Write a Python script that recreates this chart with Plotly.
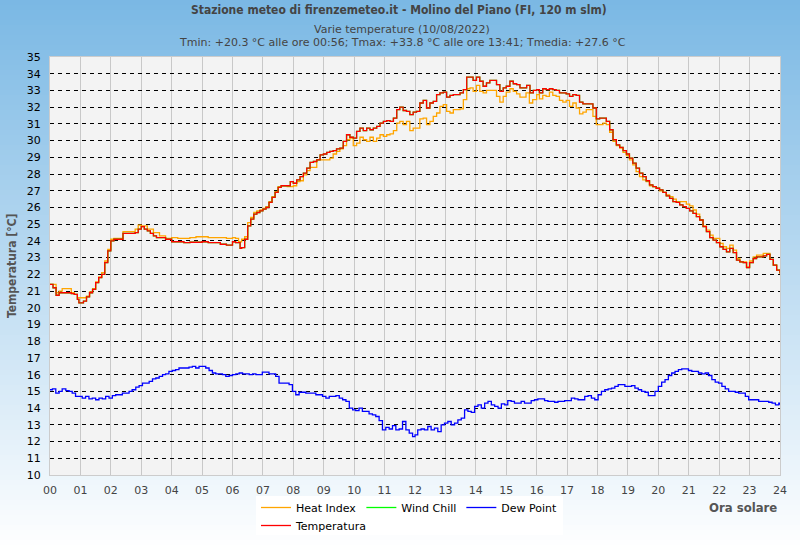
import plotly.graph_objects as go

# ---------------- data ----------------
hours_ticks = list(range(0, 25))
hour_labels = [f"{h:02d}" for h in hours_ticks]
temp_ticks = list(range(10, 36))

temp_t = [0.0, 0.1, 0.2, 0.3, 0.5, 0.7, 0.8, 0.9, 0.95, 1.1, 1.2, 1.3, 1.4, 1.5, 1.6, 1.7, 1.8, 1.9, 2.0, 2.1,
          2.3, 2.4, 2.7, 2.8, 2.9, 3.0, 3.1, 3.2, 3.3, 3.4, 3.5, 3.6, 3.8, 3.9, 4.0, 4.2, 4.4, 4.6, 4.8, 5.0,
          5.2, 5.4, 5.6, 5.8, 6.0, 6.1, 6.25, 6.3, 6.4, 6.5, 6.6, 6.7, 6.8, 6.9, 7.0, 7.1, 7.2, 7.3, 7.4, 7.5,
          7.6, 7.8, 7.9, 8.0, 8.11, 8.22, 8.33, 8.44, 8.55, 8.66, 8.77, 8.88, 8.99, 9.1, 9.2, 9.31, 9.42, 9.53,
          9.64, 9.75, 9.86, 9.97, 10.08, 10.19, 10.3, 10.41, 10.52, 10.63, 10.74, 10.85, 10.96, 11.07, 11.18,
          11.29, 11.4, 11.5, 11.61, 11.72, 11.83, 11.94, 12.05, 12.16, 12.27, 12.38, 12.49, 12.6, 12.71, 12.82,
          12.93, 13.04, 13.15, 13.26, 13.37, 13.48, 13.59, 13.7, 13.81, 13.91, 14.02, 14.13, 14.24, 14.35,
          14.46, 14.57, 14.68, 14.79, 14.9, 15.0, 15.12, 15.23, 15.34, 15.45, 15.56, 15.67, 15.78, 15.89,
          16.0, 16.09, 16.2, 16.31, 16.42, 16.53, 16.64, 16.75, 16.86, 16.97, 17.08, 17.19, 17.3, 17.41,
          17.52, 17.63, 17.74, 17.85, 17.96, 18.07, 18.18, 18.29, 18.4, 18.51, 18.62, 18.73, 18.84, 18.95,
          19.05, 19.16, 19.27, 19.38, 19.49, 19.6, 19.71, 19.82, 19.93, 20.04, 20.15, 20.26, 20.37, 20.48,
          20.59, 20.7, 20.81, 20.92, 21.03, 21.14, 21.25, 21.36, 21.47, 21.58, 21.69, 21.8, 21.91, 22.02,
          22.13, 22.24, 22.35, 22.46, 22.57, 22.68, 22.79, 22.9, 23.0, 23.12, 23.23, 23.34, 23.45, 23.56,
          23.67, 23.78, 23.89, 24.0]
temp_v = [21.4, 21.2, 20.75, 20.9, 20.9, 20.85, 20.8, 20.5, 20.3, 20.4, 20.65, 20.9, 21.1, 21.5, 21.8, 22.0, 22.7, 23.4, 24.0, 24.1,
          24.1, 24.45, 24.45, 24.5, 24.7, 24.85, 24.7, 24.6, 24.45, 24.3, 24.2, 24.2, 24.1, 24.1, 23.95, 23.95, 23.9, 23.92, 23.92, 23.95,
          23.9, 23.9, 23.8, 23.75, 23.95, 23.9, 23.55, 23.6, 24.1, 24.9, 25.3, 25.6, 25.7, 25.8, 25.9, 26.0, 26.3, 26.6, 26.9, 27.2,
          27.3, 27.3, 27.55, 27.45, 27.65, 27.85, 28.05, 28.35, 28.7, 28.75, 28.85, 29.15, 29.2, 29.3, 29.35, 29.4, 29.5, 29.55,
          29.95, 30.35, 30.2, 30.15, 30.55, 30.75, 30.6, 30.75, 30.65, 30.75, 30.85, 31.05, 31.15, 31.2, 31.15,
          31.35, 31.85, 32.0, 31.8, 31.75, 31.55, 31.7, 31.75, 32.25, 32.4, 31.95, 32.25, 32.35, 32.75, 32.85,
          32.9, 32.6, 32.7, 32.75, 32.75, 32.85, 33.05, 33.8, 33.8, 33.6, 33.8, 33.55, 33.25, 33.45,
          33.6, 33.6, 33.35, 32.95, 33.15, 33.25, 33.55, 33.4, 33.35, 33.15, 33.15, 33.3, 32.85, 33.0,
          33.05, 32.85, 33.1, 33.05, 33.1, 33.05, 33.0, 32.85, 32.85, 32.8, 32.65, 32.75, 32.7, 32.3,
          32.2, 32.2, 32.2, 31.95, 31.3, 31.35, 31.35, 31.15, 30.65, 30.05, 29.75, 29.6, 29.4, 29.2,
          28.95, 28.65, 28.35, 28.05, 27.85, 27.6, 27.35, 27.25, 27.15, 27.05, 26.9, 26.7, 26.55, 26.35,
          26.3, 26.15, 26.05, 25.95, 25.8, 25.65, 25.45, 25.25, 24.85, 24.55, 24.2, 24.05, 23.9, 23.65,
          23.5, 23.35, 23.55, 23.3, 22.85, 22.75, 22.7, 22.4, 22.7, 22.95, 23.05, 23.05, 23.1, 23.2,
          22.9, 22.55, 22.25, 22.05]

heat_t = [0.0, 0.2, 0.3, 0.4, 0.6, 0.7, 0.8, 0.9, 1.1, 1.2, 1.3, 1.4, 1.5, 1.6, 1.7, 1.8, 1.9, 2.0, 2.1, 2.3,
          2.4, 2.7, 2.8, 2.9, 3.0, 3.2, 3.4, 3.6, 3.8, 4.0, 4.2, 4.4, 4.6, 4.8, 5.0, 5.2, 5.4, 5.6, 5.8, 6.0,
          6.1, 6.2, 6.3, 6.4, 6.5, 6.6, 6.7, 6.8, 6.9, 7.0, 7.1, 7.2, 7.3, 7.4, 7.5, 7.6, 7.8, 8.0, 8.11, 8.22,
          8.33, 8.44, 8.55, 8.66, 8.77, 8.88, 8.99, 9.1, 9.2, 9.31, 9.42, 9.53, 9.64, 9.75, 9.86, 9.97, 10.08,
          10.19, 10.3, 10.41, 10.52, 10.63, 10.74, 10.85, 10.96, 11.07, 11.18, 11.29, 11.4, 11.5, 11.61, 11.72,
          11.83, 11.94, 12.05, 12.16, 12.27, 12.38, 12.49, 12.6, 12.71, 12.82, 12.93, 13.04, 13.15, 13.26,
          13.37, 13.48, 13.59, 13.7, 13.81, 13.91, 14.02, 14.13, 14.24, 14.35, 14.46, 14.57, 14.68, 14.79,
          14.9, 15.0, 15.12, 15.23, 15.34, 15.45, 15.54, 15.65, 15.76, 15.87, 16.0, 16.09, 16.2, 16.31, 16.42,
          16.53, 16.64, 16.75, 16.86, 16.97, 17.08, 17.19, 17.3, 17.41, 17.52, 17.63, 17.74, 17.85, 17.96,
          18.07, 18.18, 18.29, 18.4, 18.51, 18.62, 18.73, 18.84, 18.95, 19.05, 19.16, 19.27, 19.38, 19.49,
          19.6, 19.71, 19.82, 19.93, 20.04, 20.15, 20.26, 20.37, 20.48, 20.59, 20.7, 20.81, 20.92, 21.03,
          21.14, 21.25, 21.36, 21.47, 21.58, 21.69, 21.8, 21.91, 22.02, 22.13, 22.24, 22.35, 22.46, 22.57,
          22.68, 22.79, 22.9, 23.0, 23.12, 23.23, 23.34, 23.45, 23.56, 23.67, 23.78, 23.89, 24.0]
heat_v = [21.4, 20.9, 21.0, 21.15, 21.15, 20.9, 20.8, 20.6, 20.6, 20.7, 20.95, 21.15, 21.55, 21.85, 22.1, 22.8, 23.5, 24.1, 24.15, 24.15,
          24.55, 24.55, 24.7, 24.95, 24.9, 24.7, 24.5, 24.3, 24.15, 24.2, 24.15, 24.15, 24.2, 24.25, 24.25, 24.2, 24.2, 24.2, 24.15, 24.2,
          24.15, 23.95, 24.1, 24.25, 25.1, 25.4, 25.7, 25.8, 25.85, 25.95, 26.05, 26.35, 26.65, 26.95, 27.25, 27.3, 27.25, 27.3, 27.55, 27.6,
          27.95, 28.2, 28.4, 28.4, 28.85, 28.85, 28.85, 28.85, 28.95, 29.2, 29.35, 29.5, 29.7, 30.05, 30.15, 29.7, 29.85,
          30.2, 30.05, 29.95, 30.2, 29.95, 30.15, 30.35, 30.25, 30.35, 30.4, 30.6, 31.05, 31.15, 30.95, 31.15,
          30.6, 30.75, 30.75, 31.3, 31.35, 30.95, 31.15, 31.45, 31.65, 32.05, 32.15, 31.75, 31.65, 31.85,
          31.85, 31.9, 32.45, 33.1, 33.15, 32.95, 33.3, 32.95, 32.85, 33.0, 33.0, 33.0, 32.65, 32.3,
          32.65, 32.9, 33.1, 32.95, 32.8, 32.6, 32.6, 32.85, 32.25, 32.45, 32.75, 32.5, 32.7, 32.65, 32.9,
          32.7, 32.65, 32.4, 32.3, 32.4, 32.05, 32.25, 31.95, 31.6, 31.7, 31.85, 31.85, 31.45, 30.95,
          30.95, 31.05, 30.95, 30.5, 29.95, 29.7, 29.55, 29.3, 29.1, 28.85, 28.55, 28.15, 27.85, 27.65,
          27.55, 27.3, 27.25, 27.15, 27.0, 26.9, 26.75, 26.65, 26.5, 26.35, 26.35, 26.35, 26.2, 26.1,
          25.85, 25.6, 25.25, 24.9, 24.65, 24.35, 24.15, 24.15, 23.85, 23.65, 23.55, 23.75, 23.45, 22.95,
          22.75, 22.75, 22.45, 22.8, 23.05, 23.15, 23.15, 23.25, 23.25, 22.9, 22.55, 22.25, 22.05]

dew_t = [0.0, 0.08, 0.19, 0.3, 0.4, 0.52, 0.63, 0.73, 0.84, 0.95, 1.06, 1.17, 1.28, 1.39, 1.5, 1.61, 1.72, 1.83, 1.94, 2.05,
         2.16, 2.27, 2.38, 2.49, 2.6, 2.7, 2.82, 2.93, 3.04, 3.15, 3.26, 3.37, 3.48, 3.59, 3.7, 3.8, 3.91, 4.02, 4.13, 4.24,
         4.35, 4.46, 4.57, 4.68, 4.79, 4.9, 5.01, 5.12, 5.23, 5.34, 5.45, 5.56, 5.67, 5.78, 5.89, 6.0, 6.11, 6.22, 6.33, 6.44,
         6.55, 6.66, 6.77, 6.88, 6.98, 7.09, 7.2, 7.31, 7.42, 7.53, 7.64, 7.75, 7.86, 7.97, 8.08, 8.19, 8.3, 8.41, 8.52, 8.63,
         8.74, 8.85, 8.96, 9.07, 9.18, 9.29, 9.4, 9.51, 9.62, 9.73, 9.84, 9.95, 10.05, 10.16, 10.27, 10.38, 10.49, 10.6, 10.71,
         10.82, 10.93, 11.04, 11.15, 11.26, 11.37, 11.48, 11.59, 11.7, 11.81, 11.92, 12.0, 12.09, 12.2, 12.31, 12.42, 12.53,
         12.64, 12.75, 12.86, 12.97, 13.08, 13.19, 13.3, 13.41, 13.52, 13.63, 13.74, 13.85, 13.96, 14.07, 14.18, 14.29, 14.4,
         14.51, 14.62, 14.73, 14.84, 14.95, 15.05, 15.16, 15.27, 15.38, 15.49, 15.6, 15.71, 15.82, 15.93, 16.04, 16.15, 16.26,
         16.37, 16.48, 16.59, 16.7, 16.81, 16.92, 17.03, 17.14, 17.25, 17.36, 17.47, 17.58, 17.69, 17.8, 17.91, 18.02, 18.13,
         18.24, 18.35, 18.46, 18.57, 18.68, 18.79, 18.9, 19.01, 19.12, 19.23, 19.34, 19.45, 19.56, 19.67, 19.78, 19.89, 20.0,
         20.11, 20.22, 20.33, 20.44, 20.55, 20.66, 20.77, 20.88, 20.99, 21.1, 21.21, 21.32, 21.43, 21.54, 21.65, 21.76, 21.87,
         21.98, 22.09, 22.2, 22.31, 22.42, 22.53, 22.64, 22.75, 22.86, 22.97, 23.08, 23.19, 23.3, 23.41, 23.52, 23.63, 23.74,
         23.85, 23.96, 24.0]
dew_v = [15.1, 15.15, 14.9, 15.0, 15.15, 15.05, 15.0, 14.9, 14.7, 14.7, 14.6, 14.7, 14.55, 14.6, 14.5, 14.6, 14.55, 14.7, 14.6, 14.75,
         14.8, 14.8, 14.9, 14.9, 15.0, 15.1, 15.25, 15.35, 15.5, 15.5, 15.6, 15.75, 15.8, 15.9, 16.0, 16.05, 16.2, 16.25, 16.3, 16.4,
         16.4, 16.4, 16.45, 16.5, 16.4, 16.5, 16.5, 16.4, 16.25, 16.1, 16.05, 16.05, 16.0, 15.9, 15.95, 16.0, 16.05, 16.1, 16.05, 16.05,
         16.0, 16.05, 16.0, 16.0, 16.15, 16.15, 16.05, 16.05, 15.9, 15.5, 15.5, 15.5, 15.4, 15.0, 14.8, 14.95, 14.95, 14.9, 14.9, 14.9,
         14.8, 14.8, 14.7, 14.6, 14.7, 14.7, 14.75, 14.6, 14.5, 14.4, 14.0, 13.9, 13.85, 14.0, 13.8, 13.8, 13.65, 13.6, 13.5,
         13.25, 12.7, 12.85, 12.75, 12.95, 12.7, 12.75, 13.2, 12.7, 12.5, 12.3, 12.4, 12.7, 12.75, 12.7, 12.9, 12.7,
         12.8, 12.6, 13.0, 13.1, 13.2, 13.0, 13.1, 13.3, 13.4, 13.9, 13.8, 13.75, 14.1, 14.2, 14.0, 14.3, 14.4,
         14.2, 14.1, 14.0, 14.25, 14.2, 14.45, 14.4, 14.3, 14.3, 14.4, 14.3, 14.3, 14.45, 14.5, 14.55, 14.55, 14.45,
         14.4, 14.4, 14.35, 14.4, 14.4, 14.45, 14.45, 14.6, 14.55, 14.5, 14.5, 14.7, 14.75, 14.6, 14.5, 14.8, 15.0,
         15.1, 15.15, 15.2, 15.3, 15.4, 15.4, 15.3, 15.3, 15.35, 15.2, 15.1, 15.0, 14.95, 14.75, 14.75, 15.0, 15.3,
         15.55, 15.7, 15.95, 16.1, 16.2, 16.3, 16.35, 16.35, 16.25, 16.2, 16.2, 16.1, 16.05, 16.1, 15.95, 15.7, 15.55,
         15.5, 15.3, 15.15, 15.0, 15.0, 14.95, 14.9, 14.9, 14.7, 14.5, 14.5, 14.5, 14.4, 14.4, 14.4, 14.35, 14.3,
         14.2, 14.3, 14.2]

# Wind chill coincides with the air temperature at these values (hidden under the red line)
wind_t = list(temp_t)
wind_v = list(temp_v)

# ---------------- figure ----------------
W, H = 800, 550
L, R, T, B = 50, 20, 57, 75
PW, PH = W - L - R, H - T - B


def px_x(px):
    return (px - L) / PW


def px_y(py):
    return (H - B - py) / PH


LW = 1.3
fig = go.Figure()
fig.add_trace(go.Scatter(x=heat_t, y=heat_v, name="Heat Index", mode="lines", line_shape="hv",
                         line=dict(color="#ffa500", width=LW), legend="legend"))
fig.add_trace(go.Scatter(x=wind_t, y=wind_v, name="Wind Chill", mode="lines", line_shape="hv",
                         line=dict(color="#00ff00", width=LW), legend="legend"))
fig.add_trace(go.Scatter(x=dew_t, y=dew_v, name="Dew Point", mode="lines", line_shape="hv",
                         line=dict(color="#0000ff", width=LW), legend="legend"))
fig.add_trace(go.Scatter(x=temp_t, y=temp_v, name="Temperatura", mode="lines", line_shape="hv",
                         line=dict(color="#ff0000", width=LW), legend="legend2"))

# background gradient (blue at top -> white at bottom)
shapes = []
top_c = (122, 184, 228)
bot_c = (255, 255, 255)
step = 5
for i in range(0, H, step):
    f = (i + step / 2) / H
    c = tuple(int(round(top_c[k] + (bot_c[k] - top_c[k]) * f)) for k in range(3))
    shapes.append(dict(type="rect", xref="paper", yref="paper", layer="below",
                       x0=px_x(0), x1=px_x(W), y0=px_y(i + step), y1=px_y(i),
                       fillcolor=f"rgb{c}", line=dict(width=0)))
# plot area background
shapes.append(dict(type="rect", xref="paper", yref="paper", layer="below",
                   x0=0, x1=1, y0=0, y1=1, fillcolor="#f3f3f3", line=dict(width=0)))
# legend background box
shapes.append(dict(type="rect", xref="paper", yref="paper", layer="below",
                   x0=px_x(256), x1=px_x(563), y0=px_y(535), y1=px_y(496),
                   fillcolor="white", line=dict(width=0)))

title_font = "Liberation Sans Narrow, Arial Narrow, DejaVu Sans Condensed, Liberation Sans, sans-serif"
annotations = [
    dict(text="<b>Stazione meteo di firenzemeteo.it - Molino del Piano (FI, 120 m slm)</b>",
         x=px_x(399), xref="paper", y=px_y(10), yref="paper", xanchor="center", yanchor="middle",
         showarrow=False, font=dict(family=title_font, size=12, color="#444444")),
    dict(text="Varie temperature (10/08/2022)", x=px_x(402), xref="paper", y=px_y(29), yref="paper",
         xanchor="center", yanchor="middle", showarrow=False,
         font=dict(family="DejaVu Sans", size=11, color="#444444")),
    dict(text="Tmin: +20.3 °C alle ore 00:56; Tmax: +33.8 °C alle ore 13:41; Tmedia: +27.6 °C",
         x=px_x(402), xref="paper", y=px_y(42.5), yref="paper", xanchor="center", yanchor="middle",
         showarrow=False, font=dict(family="DejaVu Sans", size=11, color="#444444")),
    dict(text="<b>Temperatura [°C]</b>", x=px_x(12), xref="paper", y=px_y(266), yref="paper",
         xanchor="center", yanchor="middle", textangle=-90, showarrow=False,
         font=dict(family=title_font, size=12, color="#555555")),
    dict(text="<b>Ora solare</b>", x=px_x(779), xref="paper", y=px_y(507), yref="paper",
         xanchor="right", yanchor="middle", showarrow=False,
         font=dict(family=title_font, size=13, color="#555555")),
]

fig.update_layout(
    width=W, height=H,
    margin=dict(l=L, r=R, t=T, b=B, autoexpand=False),
    paper_bgcolor="white",
    plot_bgcolor="#f3f3f3",
    shapes=shapes,
    annotations=annotations,
    showlegend=True,
    legend=dict(orientation="h", x=px_x(256), xanchor="left", y=px_y(493), yanchor="top",
                bgcolor="rgba(0,0,0,0)", font=dict(family="DejaVu Sans", size=11, color="#000000"),
                traceorder="normal", itemclick=False),
    legend2=dict(orientation="h", x=px_x(256), xanchor="left", y=px_y(511), yanchor="top",
                 bgcolor="rgba(0,0,0,0)", font=dict(family="DejaVu Sans", size=11, color="#000000"),
                 itemclick=False),
    xaxis=dict(range=[0, 24], tickvals=hours_ticks, ticktext=hour_labels,
               showgrid=True, gridcolor="#c8c8c8", gridwidth=1,
               showline=True, linecolor="#cccccc", linewidth=1, mirror=True,
               zeroline=False, ticks="", ticklabelstandoff=5,
               tickfont=dict(family="DejaVu Sans", size=11, color="#444444")),
    yaxis=dict(range=[10, 35], tickvals=temp_ticks, ticktext=[str(v) for v in temp_ticks],
               showgrid=True, gridcolor="#000000", gridwidth=1, griddash="4px,4px",
               showline=True, linecolor="#cccccc", linewidth=1, mirror=True,
               zeroline=False, ticks="", ticklabelstandoff=6,
               tickfont=dict(family="DejaVu Sans", size=11, color="#000000")),
)

fig.write_html("out.html")
